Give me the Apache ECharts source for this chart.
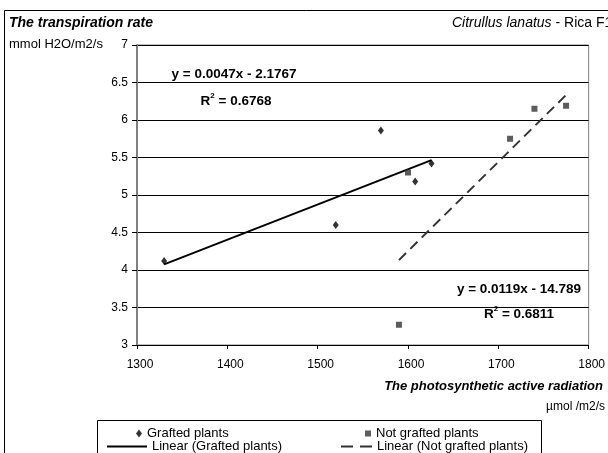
<!DOCTYPE html>
<html><head><meta charset="utf-8">
<script src="https://cdn.jsdelivr.net/npm/echarts@6/dist/echarts.min.js"></script>
<style>html,body{margin:0;padding:0;background:#fff}#c{width:608px;height:453px}</style>
</head><body><div id="c"></div>
<script>
// ---- data ----
const graftedX = [1330, 1520, 1570, 1608, 1626];
const graftedY = [4.12, 4.60, 5.86, 5.18, 5.42];
const notGraftedX = [1590, 1600, 1713, 1740, 1775];
const notGraftedY = [3.27, 5.30, 5.75, 6.15, 6.19];
const seriesNames = ['Grafted plants', 'Not grafted plants'];
const trendNames = ['Linear (Grafted plants)', 'Linear (Not grafted plants)'];
const trendSlope = [0.0047, 0.0119];
const trendIntercept = [-2.1767, -14.789];
const trendR2 = ['0.6768', '0.6811'];
const xRange = [1300, 1800, 100];
const yRange = [3, 7, 0.5];

const FONT = "'Liberation Sans', Arial, sans-serif";
const zip = (xs, ys) => xs.map((x, i) => [x, ys[i]]);
function trend(xs, k) {
  const a = Math.min(...xs), b = Math.max(...xs);
  return [[a, trendSlope[k] * a + trendIntercept[k]], [b, trendSlope[k] * b + trendIntercept[k]]];
}
function eqText(k) {
  const c = trendIntercept[k];
  return 'y = ' + trendSlope[k] + 'x ' + (c < 0 ? '- ' : '+ ') + Math.abs(c);
}
function txt(x, y, text, opts) {
  return {
    type: 'text', x: x, y: y, z: 10,
    style: Object.assign({
      text: text, fill: '#000', fontSize: 12, fontFamily: FONT,
      align: 'left', verticalAlign: 'middle', textAlign: 'left', textVerticalAlign: 'middle'
    }, opts || {})
  };
}
function r2Text(x, y, k) {
  const b = { fontSize: 13.5, fontWeight: 'bold', fontFamily: FONT, fill: '#000', color: '#000', lineHeight: 16, verticalAlign: 'bottom' };
  const s = { fontSize: 8, fontWeight: 'bold', fontFamily: FONT, fill: '#000', color: '#000', lineHeight: 16, verticalAlign: 'top' };
  return {
    type: 'text', x: x, y: y, z: 10,
    style: {
      text: '{b|R}{s|2}{b| = ' + trendR2[k] + '}',
      align: 'center', verticalAlign: 'middle', textAlign: 'center', textVerticalAlign: 'middle',
      rich: { b: b, s: s }
    }
  };
}
const legTxt = { fontSize: 13, fontFamily: FONT, color: '#000' };

const chart = echarts.init(document.getElementById('c'), null, { renderer: 'canvas' });
chart.setOption({
  animation: false,
  backgroundColor: '#fff',
  grid: { left: 137, top: 45, width: 463, height: 300, show: true, borderColor: '#808080', borderWidth: 1, backgroundColor: 'transparent' },
  xAxis: {
    type: 'value', min: xRange[0], max: xRange[1], interval: xRange[2],
    axisLine: { show: true, lineStyle: { color: '#000', width: 1 } },
    axisTick: { show: true, length: 4, lineStyle: { color: '#000' } },
    axisLabel: { margin: 14, color: '#000', fontSize: 12, fontFamily: FONT, padding: [0, 0, 0, 6], formatter: v => String(v) },
    splitLine: { show: false }
  },
  yAxis: {
    type: 'value', min: yRange[0], max: yRange[1], interval: yRange[2],
    axisLine: { show: true, lineStyle: { color: '#808080', width: 2 } },
    axisTick: { show: true, length: 5, lineStyle: { color: '#000' } },
    axisLabel: { margin: 9, color: '#000', fontSize: 12, fontFamily: FONT, formatter: v => String(v) },
    splitLine: { show: true, lineStyle: { color: '#000', width: 1 } }
  },
  legend: [
    { data: [seriesNames[0]], left: 136, top: 427, padding: 0, itemWidth: 6, itemHeight: 8, symbolKeepAspect: false, textStyle: legTxt },
    { data: [seriesNames[1]], left: 365, top: 427, padding: 0, itemWidth: 6, itemHeight: 6, textStyle: legTxt },
    { data: [{ name: trendNames[0], icon: 'path://M0,0h40v2h-40z' }], left: 107, top: 440, padding: 0, itemWidth: 40, itemHeight: 2, textStyle: legTxt },
    { data: [{ name: trendNames[1], icon: 'path://M0,0h12v2h-12zM19,0h12v2h-12z' }], left: 341, top: 440, padding: 0, itemWidth: 31, itemHeight: 2, textStyle: legTxt }
  ],
  series: [
    { name: seriesNames[0], type: 'scatter', symbol: 'diamond', symbolSize: [6, 8],
      itemStyle: { color: '#000' }, data: zip(graftedX, graftedY), z: 5 },
    { name: seriesNames[1], type: 'scatter', symbol: 'rect', symbolSize: 6,
      itemStyle: { color: '#333' }, data: zip(notGraftedX, notGraftedY), z: 5 },
    { name: trendNames[0], type: 'line', symbol: 'none', data: trend(graftedX, 0),
      itemStyle: { color: '#000' }, lineStyle: { color: '#000', width: 2 }, z: 4 },
    { name: trendNames[1], type: 'line', symbol: 'none', data: trend(notGraftedX, 1),
      itemStyle: { color: '#333' }, lineStyle: { color: '#333', width: 2, type: [10, 6] }, z: 4 }
  ],
  graphic: [
    { type: 'rect', shape: { x: 4.5, y: 10.5, width: 700, height: 500 }, style: { fill: 'none', stroke: '#000', lineWidth: 1 }, z: 1 },
    { type: 'rect', shape: { x: 97.5, y: 420.5, width: 444, height: 60 }, style: { fill: 'none', stroke: '#000', lineWidth: 1 }, z: 1 },
    txt(9, 23, 'The transpiration rate', { fontWeight: 'bold', fontStyle: 'italic', fontSize: 14 }),
    {
      type: 'text', x: 452, y: 23, z: 10,
      style: {
        text: '{i|Citrullus lanatus}{n| - Rica F1}', verticalAlign: 'middle', textVerticalAlign: 'middle',
        rich: {
          i: { fontStyle: 'italic', fontSize: 14, fontFamily: FONT, fill: '#000', color: '#000' },
          n: { fontSize: 14, fontFamily: FONT, fill: '#000', color: '#000' }
        }
      }
    },
    txt(9, 44, 'mmol H2O/m2/s', { fontSize: 13 }),
    txt(603, 386, 'The photosynthetic active radiation', { fontWeight: 'bold', fontStyle: 'italic', fontSize: 13, align: 'right', textAlign: 'right' }),
    txt(605, 407, 'µmol /m2/s', { align: 'right', textAlign: 'right' }),
    txt(234, 74, eqText(0), { fontWeight: 'bold', fontSize: 13.5, align: 'center', textAlign: 'center' }),
    r2Text(236, 100, 0),
    txt(519, 289, eqText(1), { fontWeight: 'bold', fontSize: 13.5, align: 'center', textAlign: 'center' }),
    r2Text(519, 313, 1)
  ]
});
</script>
</body></html>
